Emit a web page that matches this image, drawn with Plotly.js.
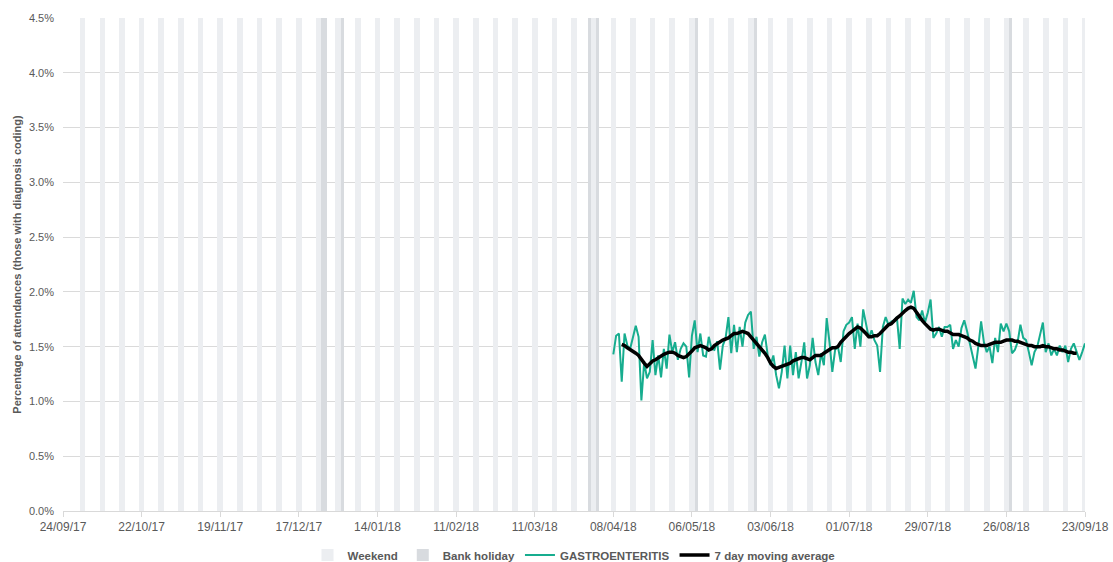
<!DOCTYPE html>
<html>
<head>
<meta charset="utf-8">
<script src="https://cdn.plot.ly/plotly-3.0.1.min.js"></script>
<style>
  html, body { margin: 0; padding: 0; background: #fff; }
  #plot { width: 1113px; height: 562px; }
</style>
</head>
<body>
<div id="plot"></div>
<script>
// axis window and tick labels
const axisStart = '2017-09-24';
const axisEnd = '2018-09-23';
const tickDates = ['2017-09-24', '2017-10-22', '2017-11-19', '2017-12-17', '2018-01-14', '2018-02-11', '2018-03-11',
                   '2018-04-08', '2018-05-06', '2018-06-03', '2018-07-01', '2018-07-29', '2018-08-26', '2018-09-23'];
const tickLabels = ['24/09/17', '22/10/17', '19/11/17', '17/12/17', '14/01/18', '11/02/18', '11/03/18',
                    '08/04/18', '06/05/18', '03/06/18', '01/07/18', '29/07/18', '26/08/18', '23/09/18'];

const bankHolidays = ['2017-12-25', '2017-12-26', '2018-01-01', '2018-03-30', '2018-04-02',
                      '2018-05-07', '2018-05-28', '2018-08-27'];

// daily % of attendances, from 08/04/18
const seriesStart = '2018-04-08';
const gastro = [
    1.43, 1.60, 1.62, 1.18, 1.62, 1.51, 1.48, 1.60, 1.69, 1.59,
    1.01, 1.36, 1.21, 1.27, 1.56, 1.24, 1.42, 1.22, 1.48, 1.30,
    1.61, 1.45, 1.54, 1.38, 1.48, 1.53, 1.50, 1.22, 1.60, 1.74,
    1.45, 1.62, 1.42, 1.41, 1.59, 1.48, 1.47, 1.55, 1.29, 1.51,
    1.58, 1.77, 1.44, 1.70, 1.45, 1.68, 1.50, 1.72, 1.79, 1.82,
    1.48, 1.59, 1.41, 1.54, 1.61, 1.42, 1.33, 1.42, 1.24, 1.12,
    1.27, 1.51, 1.21, 1.51, 1.24, 1.45, 1.21, 1.36, 1.54, 1.21,
    1.33, 1.58, 1.36, 1.24, 1.44, 1.33, 1.76, 1.54, 1.27, 1.47,
    1.50, 1.36, 1.64, 1.70, 1.72, 1.77, 1.48, 1.71, 1.50, 1.84,
    1.72, 1.58, 1.65, 1.56, 1.51, 1.27, 1.68, 1.77, 1.70, 1.73,
    1.74, 1.77, 1.48, 1.94, 1.89, 1.93, 1.90, 2.01, 1.77, 1.74,
    1.83, 1.72, 1.81, 1.93, 1.58, 1.62, 1.68, 1.59, 1.68, 1.68,
    1.70, 1.48, 1.56, 1.50, 1.67, 1.74, 1.64, 1.53, 1.44, 1.30,
    1.50, 1.73, 1.54, 1.45, 1.50, 1.35, 1.58, 1.45, 1.71, 1.64,
    1.71, 1.64, 1.44, 1.47, 1.54, 1.70, 1.58, 1.56, 1.45, 1.33,
    1.45, 1.50, 1.61, 1.72, 1.45, 1.53, 1.42, 1.48, 1.42, 1.51,
    1.45, 1.51, 1.36, 1.48, 1.53, 1.45, 1.38, 1.45, 1.53
];

// 7 day moving average (centred), from 11/04/18
const maStart = '2018-04-11';
const movingAvg = [
    1.52, 1.51, 1.49, 1.47, 1.46, 1.44, 1.42, 1.38, 1.35, 1.32,
    1.35, 1.37, 1.38, 1.40, 1.41, 1.43, 1.44, 1.45, 1.45, 1.44,
    1.42, 1.41, 1.40, 1.41, 1.43, 1.46, 1.49, 1.50, 1.51, 1.50,
    1.49, 1.47, 1.48, 1.51, 1.53, 1.54, 1.56, 1.57, 1.58, 1.60,
    1.62, 1.62, 1.63, 1.64, 1.63, 1.62, 1.59, 1.56, 1.53, 1.51,
    1.47, 1.44, 1.40, 1.35, 1.32, 1.30, 1.31, 1.32, 1.33, 1.34,
    1.35, 1.37, 1.38, 1.39, 1.40, 1.40, 1.39, 1.38, 1.40, 1.42,
    1.42, 1.42, 1.44, 1.46, 1.48, 1.49, 1.49, 1.50, 1.54, 1.57,
    1.60, 1.62, 1.64, 1.66, 1.68, 1.67, 1.65, 1.62, 1.59, 1.59,
    1.60, 1.60, 1.62, 1.65, 1.67, 1.70, 1.71, 1.74, 1.76, 1.78,
    1.81, 1.83, 1.85, 1.86, 1.85, 1.81, 1.77, 1.74, 1.71, 1.68,
    1.66, 1.65, 1.66, 1.66, 1.65, 1.64, 1.64, 1.62, 1.61, 1.61,
    1.61, 1.60, 1.59, 1.58, 1.56, 1.55, 1.53, 1.52, 1.51, 1.51,
    1.51, 1.52, 1.53, 1.54, 1.54, 1.54, 1.55, 1.56, 1.56, 1.56,
    1.55, 1.55, 1.54, 1.53, 1.52, 1.51, 1.51, 1.50, 1.50, 1.50,
    1.51, 1.50, 1.50, 1.49, 1.48, 1.48, 1.47, 1.47, 1.46, 1.45,
    1.45, 1.44, 1.44
];

const DAY = 86400000;

function addDays(dateStr, n) {
    const d = new Date(dateStr + 'T00:00:00Z');
    d.setUTCDate(d.getUTCDate() + n);
    return d.toISOString().slice(0, 10);
}

function dayRange(start, count) {
    return Array.from({ length: count }, (v, i) => addDays(start, i));
}

// weekends: one bar per Sat+Sun, centred on Sunday 00:00
let weekendX = [];
for (let d = addDays(axisStart, 7); d <= axisEnd; d = addDays(d, 7)) {
    weekendX.push(d);
}

const barTop = 4.5;
const grey = '#595959';
const font = 'Liberation Sans, Arial, sans-serif';

let weekend = {
    x: weekendX,
    y: weekendX.map(() => barTop),
    width: weekendX.map(() => 2 * DAY),
    type: 'bar',
    name: 'Weekend',
    marker: { color: '#eceef1', line: { width: 0 } },
    hoverinfo: 'skip'
};

let holiday = {
    x: bankHolidays.map(d => d + ' 12:00'),
    y: bankHolidays.map(() => barTop),
    width: bankHolidays.map(() => DAY),
    type: 'bar',
    name: 'Bank holiday',
    marker: { color: '#d8dbdf', line: { width: 0 } },
    hoverinfo: 'skip'
};

let gastroTrace = {
    x: dayRange(seriesStart, gastro.length),
    y: gastro,
    type: 'scatter',
    mode: 'lines',
    name: 'GASTROENTERITIS',
    line: { color: '#17ad8f', width: 2 }
};

let maTrace = {
    x: dayRange(maStart, movingAvg.length),
    y: movingAvg,
    type: 'scatter',
    mode: 'lines',
    name: '7 day moving average',
    line: { color: '#000000', width: 3.5 }
};

let layout = {
    width: 1113,
    height: 562,
    margin: { l: 63, r: 28, t: 18, b: 51, autoexpand: false },
    paper_bgcolor: '#ffffff',
    plot_bgcolor: '#ffffff',
    font: { family: font, color: grey },
    barmode: 'overlay',
    bargap: 0,
    showlegend: true,
    legend: {
        orientation: 'h',
        x: 0.5,
        xanchor: 'center',
        y: -0.06,
        yanchor: 'top',
        font: { size: 11.5, color: grey, weight: 'bold' },
        traceorder: 'normal'
    },
    xaxis: {
        type: 'date',
        range: [axisStart, axisEnd],
        tickmode: 'array',
        tickvals: tickDates,
        ticktext: tickLabels,
        tickfont: { size: 12, color: grey },
        showgrid: false,
        showline: true,
        linecolor: '#d9d9d9',
        ticks: 'outside',
        ticklen: 5,
        tickcolor: '#d9d9d9',
        zeroline: false,
        automargin: false
    },
    yaxis: {
        range: [0, 4.5],
        dtick: 0.5,
        tickformat: '.1f',
        ticksuffix: '%',
        tickfont: { size: 11, color: grey },
        ticklabelstandoff: 8,
        gridcolor: '#dadada',
        zeroline: false,
        showline: false,
        automargin: false,
        title: {
            text: 'Percentage of attendances (those with diagnosis coding)',
            font: { size: 11, color: grey, weight: 'bold' },
            standoff: 5
        }
    }
};

Plotly.newPlot('plot', [weekend, holiday, gastroTrace, maTrace], layout, { displayModeBar: false, staticPlot: true });
</script>
</body>
</html>
